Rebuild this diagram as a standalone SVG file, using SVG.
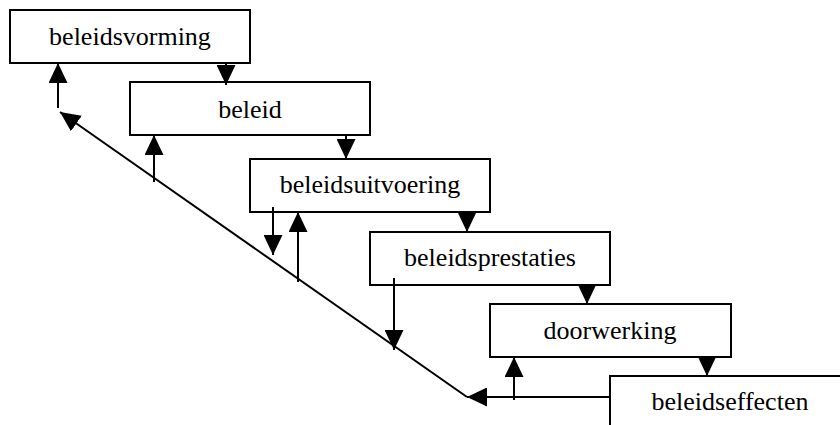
<svg xmlns="http://www.w3.org/2000/svg" width="840" height="425" viewBox="0 0 840 425">
<defs>
<style>
.box{fill:#fff;stroke:#000;stroke-width:2}
.lbl{font-size:26px;fill:#000;text-anchor:middle}
.c{fill:none;stroke:#000;stroke-width:2;marker-end:url(#ah)}
</style>
<marker id="ah" markerUnits="userSpaceOnUse" markerWidth="20" markerHeight="19" refX="20" refY="9.5" orient="auto" viewBox="0 0 20 19">
<path d="M0,0 L20,9.5 L0,19 Z" fill="#000"/>
</marker>
</defs>
<rect width="840" height="425" fill="#fff"/>
<g font-family="'Liberation Serif', 'Times New Roman', 'DejaVu Serif', serif">
<g id="beleidsvorming"><rect class="box" x="10" y="10" width="240" height="53"/><text class="lbl" x="130" y="45">beleidsvorming</text></g>
<g id="beleid"><rect class="box" x="130" y="82" width="240" height="53"/><text class="lbl" x="250" y="118">beleid</text></g>
<g id="beleidsuitvoering"><rect class="box" x="250" y="159" width="240" height="53"/><text class="lbl" x="370" y="193">beleidsuitvoering</text></g>
<g id="beleidsprestaties"><rect class="box" x="370" y="232" width="240" height="53"/><text class="lbl" x="490" y="266">beleidsprestaties</text></g>
<g id="doorwerking"><rect class="box" x="490" y="304" width="241" height="53"/><text class="lbl" x="610" y="339">doorwerking</text></g>
<g id="beleidseffecten"><rect class="box" x="610" y="376" width="240" height="60"/><text class="lbl" x="730" y="410">beleidseffecten</text></g>
</g>
<g id="connectors">
<path class="c" d="M226,63 V85"/>
<path class="c" d="M346,135 V159"/>
<path class="c" d="M467,212 V232"/>
<path class="c" d="M587,285 V304"/>
<path class="c" d="M707,357 V376"/>
<path class="c" d="M610,397 H467"/>
<path class="c" d="M467,397 L60,112"/>
<path class="c" d="M58,108 V63"/>
<path class="c" d="M154,182 V135"/>
<path class="c" d="M273,207 V255"/>
<path class="c" d="M298,282 V212"/>
<path class="c" d="M394,278 V350"/>
<path class="c" d="M514,400 V357"/>
</g>
</svg>
